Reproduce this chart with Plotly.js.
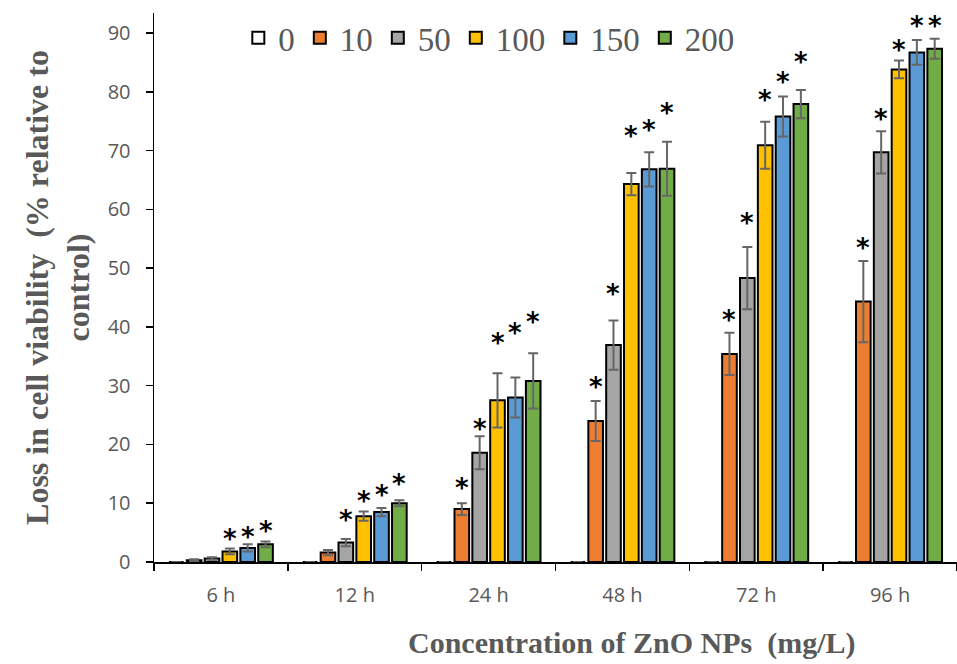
<!DOCTYPE html>
<html>
<head>
<meta charset="utf-8">
<script src="https://cdn.plot.ly/plotly-3.0.1.min.js"></script>
<style>html,body{margin:0;padding:0;background:#fff;}#chart{width:957px;height:664px;}</style>
</head>
<body>
<div id="chart"></div>
<script>
// Categories (time points) and series (ZnO NP concentration, mg/L)
const categories = ['6 h', '12 h', '24 h', '48 h', '72 h', '96 h'];
const seriesNames = ['0', '10', '50', '100', '150', '200'];

// Mean loss in cell viability (% relative to control)
const v0   = [0, 0, 0, 0, 0, 0];
const v10  = [0.3, 1.6, 9.0, 24.0, 35.4, 44.3];
const v50  = [0.6, 3.3, 18.6, 36.9, 48.3, 69.7];
const v100 = [1.8, 7.8, 27.5, 64.3, 70.9, 83.8];
const v150 = [2.4, 8.5, 28.0, 66.8, 75.8, 86.7];
const v200 = [3.0, 10.0, 30.8, 66.9, 77.9, 87.3];

// Error bars (± SD)
const e0   = [0, 0, 0, 0, 0, 0];
const e10  = [0.15, 0.45, 1.0, 3.4, 3.6, 6.9];
const e50  = [0.2, 0.6, 2.8, 4.2, 5.3, 3.6];
const e100 = [0.5, 0.8, 4.6, 1.9, 4.0, 1.5];
const e150 = [0.6, 0.7, 3.4, 2.9, 3.4, 2.1];
const e200 = [0.5, 0.5, 4.7, 4.6, 2.4, 1.7];

// Significance asterisk heights (null = no asterisk)
const s0   = [null, null, null, null, null, null];
const s10  = [null, null, 13.9, 31.1, 42.6, 54.8];
const s50  = [null, 8.5, 24.0, 47.0, 59.0, 76.7];
const s100 = [5.2, 11.8, 38.6, 73.8, 80.0, 88.5];
const s150 = [5.7, 12.7, 40.3, 74.8, 83.1, 92.5];
const s200 = [6.6, 14.6, 42.2, 77.7, 86.5, 92.5];

const yTickVals = [0, 10, 20, 30, 40, 50, 60, 70, 80, 90];

const values = [v0, v10, v50, v100, v150, v200];
const errors = [e0, e10, e50, e100, e150, e200];
const stars  = [s0, s10, s50, s100, s150, s200];
const colors = ['#FFFFFF', '#ED7D31', '#A5A5A5', '#FFC000', '#5B9BD5', '#70AD47'];

const bargap = 0.2;
const nSeries = seriesNames.length;

const traces = seriesNames.map((name, i) => ({
  type: 'bar',
  name: name,
  x: categories,
  y: values[i],
  marker: {color: colors[i], line: {color: '#000000', width: 2}},
  error_y: {type: 'data', array: errors[i], visible: true, color: '#666666', thickness: 2, width: 5},
  hoverinfo: 'x+y+name'
}));

const annotations = [];
stars.forEach((arr, i) => {
  arr.forEach((yv, k) => {
    if (yv === null) return;
    annotations.push({
      xref: 'x', yref: 'y',
      x: k + (i - (nSeries - 1) / 2) * (1 - bargap) / nSeries,
      y: yv,
      text: '<b>*</b>',
      showarrow: false,
      xanchor: 'center', yanchor: 'middle',
      yshift: -8,
      font: {family: 'DejaVu Sans, sans-serif', size: 26, color: '#000000'}
    });
  });
});

annotations.push({
  xref: 'paper', yref: 'paper',
  x: 0.595, y: -0.147,
  xanchor: 'center', yanchor: 'middle',
  text: '<b>Concentration of ZnO NPs  (mg/L)</b>',
  showarrow: false,
  font: {family: 'Liberation Serif, Times New Roman, serif', size: 30, color: '#595959'}
});

const layout = {
  width: 957, height: 664,
  margin: {l: 154, r: 0, t: 13, b: 102, pad: 0},
  paper_bgcolor: '#FFFFFF', plot_bgcolor: '#FFFFFF',
  barmode: 'group',
  bargap: bargap,
  bargroupgap: 0.18,
  showlegend: true,
  legend: {
    orientation: 'h',
    x: 0.105, xanchor: 'left',
    y: 0.955, yanchor: 'middle',
    bgcolor: 'rgba(0,0,0,0)',
    font: {family: 'Liberation Serif, Times New Roman, serif', size: 33, color: '#595959'},
    traceorder: 'normal',
    itemclick: false
  },
  xaxis: {
    type: 'category',
    showline: true, linecolor: '#000000', linewidth: 1.5,
    ticks: 'outside', tickson: 'boundaries', ticklen: 7, tickcolor: '#000000', tickwidth: 1.5,
    ticklabelstandoff: 14,
    showgrid: false, zeroline: false,
    tickfont: {family: 'Open Sans, sans-serif', size: 20, color: '#595959'},
    automargin: false
  },
  yaxis: {
    range: [0, 93.4],
    tickvals: yTickVals,
    showline: true, linecolor: '#000000', linewidth: 1.5,
    ticks: 'outside', ticklen: 7, tickcolor: '#000000', tickwidth: 1.5,
    ticklabelstandoff: 11,
    showgrid: false, zeroline: false,
    tickfont: {family: 'Open Sans, sans-serif', size: 20, color: '#595959'},
    title: {
      text: '<b>Loss in cell viability  (% relative to<br>control)</b>',
      font: {family: 'Liberation Serif, Times New Roman, serif', size: 32, color: '#595959'},
      standoff: 8
    },
    automargin: false
  },
  annotations: annotations
};

Plotly.newPlot('chart', traces, layout, {displayModeBar: false, staticPlot: true});
</script>
</body>
</html>
